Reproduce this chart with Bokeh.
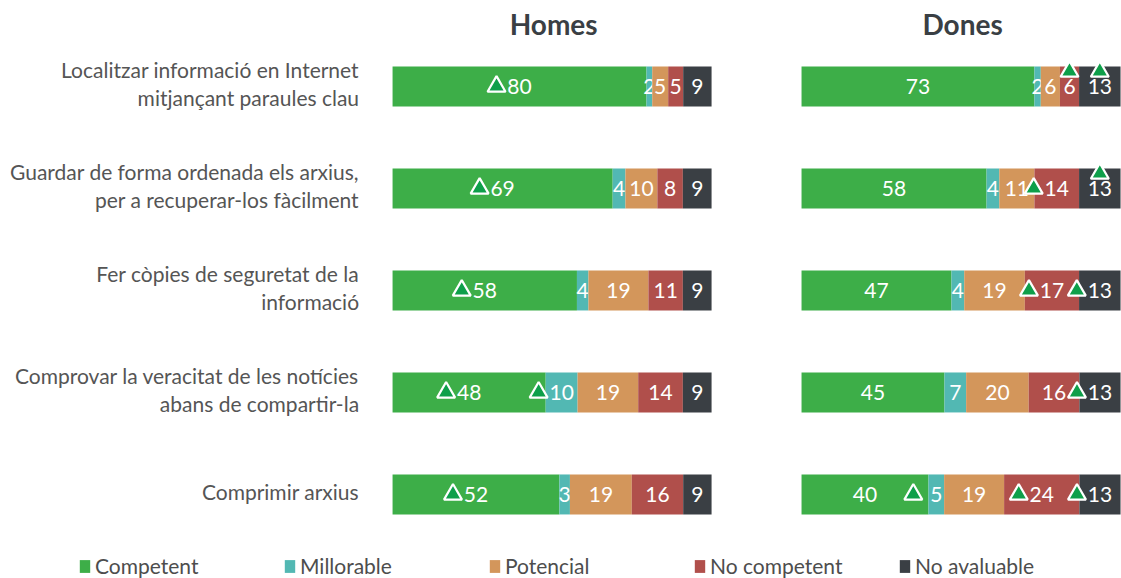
from bokeh.plotting import figure
from bokeh.models import ColumnDataSource, Range1d, Legend, LegendItem
from bokeh.core.properties import value
from bokeh.embed import file_html
from bokeh.resources import INLINE

# ---------------- data ----------------
categories = [
    "Localitzar informació en Internet\nmitjançant paraules clau",
    "Guardar de forma ordenada els arxius,\nper a recuperar-los fàcilment",
    "Fer còpies de seguretat de la\ninformació",
    "Comprovar la veracitat de les notícies\nabans de compartir-la",
    "Comprimir arxius",
]
series = ["Competent", "Millorable", "Potencial", "No competent", "No avaluable"]
panels = ["Homes", "Dones"]

homes_competent = [79.6, 69, 57.8, 48, 52.3]
homes_millorable = [1.8, 4, 3.6, 10, 3.3]
homes_potencial = [5.0, 10, 18.8, 19, 19.4]
homes_no_competent = [4.7, 8, 10.8, 14, 16.1]
homes_no_avaluable = [8.9, 9, 9.0, 9, 8.9]

dones_competent = [73, 58, 47, 44.8, 39.8]
dones_millorable = [2, 4, 4, 6.8, 4.9]
dones_potencial = [6, 11, 19, 19.6, 18.8]
dones_no_competent = [6, 14, 17, 15.9, 23.6]
dones_no_avaluable = [13, 13, 13, 12.9, 12.9]

# significant differences (triangle marks): (panel, series, row, placement)
significance = [
    ("Homes", "Competent", 0, "left"),
    ("Homes", "Competent", 1, "left"),
    ("Homes", "Competent", 2, "left"),
    ("Homes", "Competent", 3, "left"),
    ("Homes", "Competent", 4, "left"),
    ("Homes", "Millorable", 3, "left"),
    ("Dones", "No competent", 0, "above"),
    ("Dones", "No avaluable", 0, "above"),
    ("Dones", "No competent", 1, "left"),
    ("Dones", "No avaluable", 1, "above"),
    ("Dones", "No competent", 2, "left"),
    ("Dones", "No avaluable", 2, "left"),
    ("Dones", "No avaluable", 3, "left"),
    ("Dones", "Millorable", 4, "left"),
    ("Dones", "No competent", 4, "left"),
    ("Dones", "No avaluable", 4, "left"),
]

values = {
    "Homes": [homes_competent, homes_millorable, homes_potencial,
              homes_no_competent, homes_no_avaluable],
    "Dones": [dones_competent, dones_millorable, dones_potencial,
              dones_no_competent, dones_no_avaluable],
}

# ---------------- style / layout ----------------
colors = ["#3DAE48", "#52B8B3", "#D3965B", "#B04F4B", "#3A3F44"]
W, H = 1121, 578
X0, X1 = -122.9, 228.5
Y_TOP, Y_BOTTOM = -0.843, 4.824
PANEL_OFFSET = {"Homes": 0, "Dones": 128.2}
BAR_H = 0.392
PXU_X = W / (X1 - X0)
PXU_Y = H / (Y_BOTTOM - Y_TOP)
FONT = value("Lato")

p = figure(width=W, height=H, x_range=Range1d(X0, X1),
           y_range=Range1d(Y_BOTTOM, Y_TOP),
           output_backend="svg", toolbar_location=None,
           x_axis_type=None, y_axis_type=None, min_border=0,
           outline_line_color=None)
p.grid.visible = False

# segment geometry
seg = {}
for panel in panels:
    off = PANEL_OFFSET[panel]
    for r in range(len(categories)):
        cum = 0.0
        for si in range(len(series)):
            v = values[panel][si][r]
            seg[(panel, si, r)] = (off + cum, off + cum + v)
            cum += v

renderers = []
for si, s in enumerate(series):
    ys, lefts, rights, cxs, labels = [], [], [], [], []
    for panel in panels:
        for r in range(len(categories)):
            l, rr = seg[(panel, si, r)]
            ys.append(r)
            lefts.append(l)
            rights.append(rr)
            cxs.append((l + rr) / 2)
            labels.append("%d" % round(values[panel][si][r]))
    src = ColumnDataSource(dict(y=ys, left=lefts, right=rights, cx=cxs, label=labels))
    rend = p.hbar(y="y", left="left", right="right", height=BAR_H, source=src,
                  fill_color=colors[si], line_color=None)
    renderers.append(rend)
    p.text(x="cx", y="y", text="label", source=src, text_color="white",
           text_font=FONT, text_font_size="21px", text_align="center",
           text_baseline="middle")

# triangles
tx, ty = [], []
for panel, s, r, place in significance:
    si = series.index(s)
    l, rr = seg[(panel, si, r)]
    c = (l + rr) / 2
    if place == "left":
        tx.append(c - 23 / PXU_X)
        ty.append(r)
    else:
        tx.append(c)
        ty.append(r - BAR_H / 2 + 5 / PXU_Y)
p.scatter(x=tx, y=ty, marker="triangle", size=18, fill_color="#0E9F4A",
          line_color="white", line_width=2.2)

# category labels
p.text(x=[-10.5] * len(categories), y=[r - 3 / PXU_Y for r in range(len(categories))],
       text=categories, text_align="right", text_baseline="middle", text_font=FONT,
       text_font_size="21px", text_color="#555555", text_line_height=1.1)

# panel titles
p.text(x=[PANEL_OFFSET[pn] + 50.5 for pn in panels], y=[-0.61] * 2, text=panels,
       text_align="center", text_baseline="middle", text_font=FONT,
       text_font_size="28px", text_font_style="bold", text_color="#3A3F44")

legend = Legend(items=[LegendItem(label=s, renderers=[r]) for s, r in zip(series, renderers)],
                orientation="horizontal", location=(78, 0), glyph_width=13,
                glyph_height=16, label_standoff=4, label_width=150, spacing=38,
                padding=0, margin=0, border_line_alpha=0, background_fill_alpha=0,
                label_text_font="Lato", label_text_font_size="21px",
                label_text_color="#4D4D4D")
p.add_layout(legend)

open("out.html", "w").write(file_html(p, INLINE))
